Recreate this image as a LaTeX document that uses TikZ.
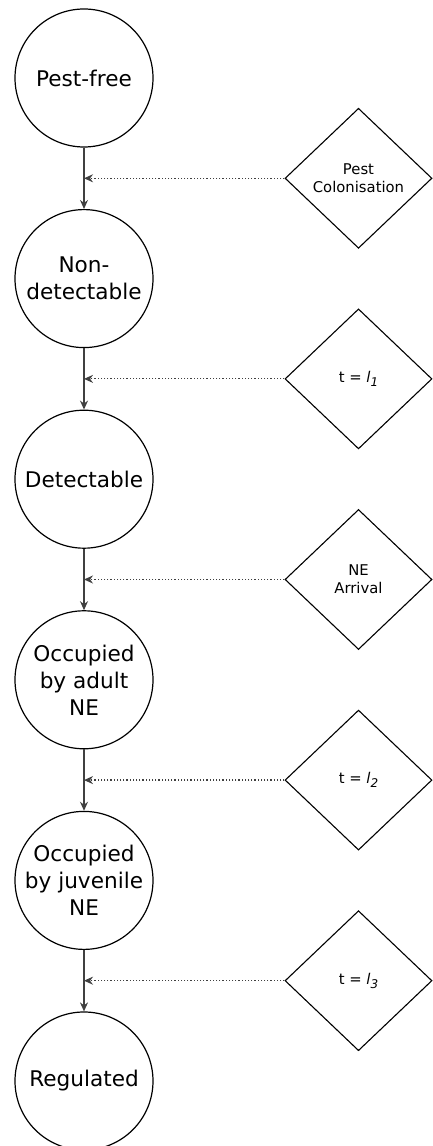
\documentclass[tikz,border=0pt]{standalone}
\usepackage{fontspec}
\setmainfont{DejaVu Sans}
\usetikzlibrary{shapes.geometric,arrows.meta,positioning,calc}

\newcommand{\lagtime}[1]{t = \textit{l}\raisebox{-1.8pt}{\fontsize{6}{6}\selectfont\textit{#1}}}

\tikzset{
    state/.style={circle, draw, line width=0.6pt, minimum size=69pt, inner sep=0pt, align=center, font=\fontsize{10.8}{13.5}\selectfont},
    event/.style={diamond, draw, line width=0.55pt, minimum width=73.5pt, minimum height=70pt, inner sep=0pt, align=center, font=\fontsize{7.4}{9}\selectfont},
    flow/.style={-{Stealth[length=4.5pt,width=4pt]}, black!75, line width=0.7pt},
    trigger/.style={-{Stealth[length=4.5pt,width=4pt]}, black!75, densely dotted, line width=0.6pt},
}

\begin{document}
\begin{tikzpicture}[x=0.5pt,y=0.5pt]
    \useasboundingbox (0,0) rectangle (433,1146);

    % States (circles)
    \foreach \i/\txt in {1/Pest-free, 2/{Non-\\detectable}, 3/Detectable, 4/{Occupied\\by adult\\NE}, 5/{Occupied\\by juvenile\\NE}, 6/Regulated} {
        \node [state] (s\i) at (84, {1268.6-200.6*\i}) {\txt};
    }

    % Events (diamonds)
    \foreach \i/\txt in {1/{Pest\\Colonisation}, 2/{\lagtime{1}}, 3/{NE\\Arrival}, 4/{\lagtime{2}}, 5/{\lagtime{3}}} {
        \node [event] (e\i) at (358.5, {1168.3-200.6*\i}) {\txt};
    }

    % Transitions
    \foreach \i/\j in {1/2, 2/3, 3/4, 4/5, 5/6} {
        \draw [flow] (s\i) -- (s\j);
        \draw [trigger] (e\i.west) -- (e\i.west -| s\i.south);
    }
\end{tikzpicture}
\end{document}
